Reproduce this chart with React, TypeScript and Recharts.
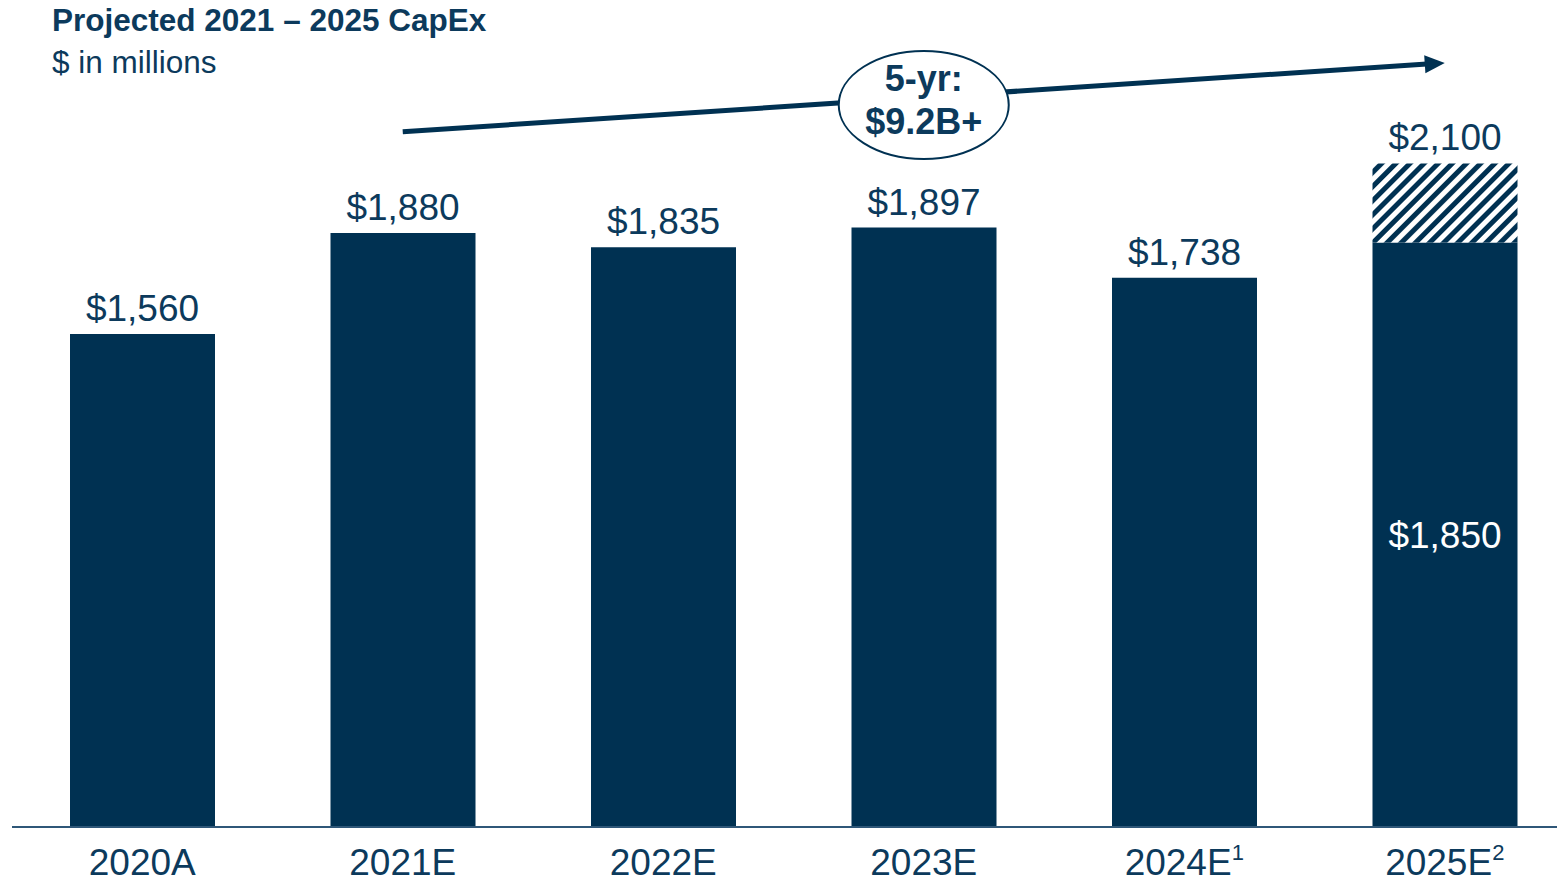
import { Bar, BarChart, LabelList, ReferenceDot, ReferenceLine, XAxis, YAxis } from 'recharts';

const categories = ['2020A', '2021E', '2022E', '2023E', '2024E', '2025E'];
const footnotes = ['', '', '', '', '1', '2'];
const baseCapex = [1560, 1880, 1835, 1897, 1738, 1850];
const upsideCapex = [0, 0, 0, 0, 0, 250];

// trend arrow (value units) and the 5-yr bubble
const trendFrom = { x: '2021E', y: 2200 };
const trendTo = { x: '2025E', y: 2418 };
const bubbleAt = { x: '2023E', y: 2285 };
const bubbleLines = ['5-yr:', '$9.2B+'];

const NAVY = '#003152';
const TEXT = '#0c3a5c';
const FONT = '"Liberation Sans", Arial, sans-serif';

const data = categories.map((name, i) => ({
	name,
	base: baseCapex[i],
	upside: upsideCapex[i],
	total: baseCapex[i] + upsideCapex[i],
}));

const money = (v: number) => '$' + Number(v).toLocaleString('en-US');

const BaseLabel = (props: any) => {
	const { x, y, width, height, index } = props;
	const cx = x + width / 2;
	if (upsideCapex[index] > 0) {
		return (
			<text x={cx} y={y + height / 2 + 13} textAnchor="middle" fill="#ffffff" fontSize={37} fontFamily={FONT}>
				{money(baseCapex[index])}
			</text>
		);
	}
	return (
		<text x={cx} y={y - 13} textAnchor="middle" fill={TEXT} fontSize={37} fontFamily={FONT}>
			{money(baseCapex[index])}
		</text>
	);
};

const TotalLabel = (props: any) => {
	const { x, y, width, height, value } = props;
	if (!height || Math.abs(height) < 1) return null;
	const top = height < 0 ? y + height : y;
	const v = Array.isArray(value) ? value[1] : value;
	return (
		<text x={x + width / 2} y={top - 13} textAnchor="middle" fill={TEXT} fontSize={37} fontFamily={FONT}>
			{money(v)}
		</text>
	);
};

const YearTick = (props: any) => {
	const { x, y, payload, index } = props;
	return (
		<text x={x} y={y + 48} textAnchor="middle" fill={TEXT} fontSize={37} fontFamily={FONT}>
			{payload.value}
			{footnotes[index] ? (
				<tspan fontSize={22} dy={-15}>
					{footnotes[index]}
				</tspan>
			) : null}
		</text>
	);
};

const TrendArrow = (props: any) => {
	const { x1, y1, x2, y2 } = props;
	const len = Math.hypot(x2 - x1, y2 - y1);
	const ux = (x2 - x1) / len;
	const uy = (y2 - y1) / len;
	const head = 20;
	const half = 9;
	const bx = x2 - ux * head;
	const by = y2 - uy * head;
	return (
		<g>
			<line x1={x1} y1={y1} x2={bx + ux * 2} y2={by + uy * 2} stroke={NAVY} strokeWidth={5} />
			<polygon
				points={`${x2},${y2} ${bx - uy * half},${by + ux * half} ${bx + uy * half},${by - ux * half}`}
				fill={NAVY}
			/>
		</g>
	);
};

const Bubble = (props: any) => {
	const { cx, cy } = props;
	return (
		<g>
			<ellipse cx={cx} cy={cy} rx={85} ry={54} fill="#ffffff" stroke={NAVY} strokeWidth={2} />
			<text x={cx} y={cy - 14} textAnchor="middle" fill={TEXT} fontSize={36} fontWeight={700} fontFamily={FONT}>
				{bubbleLines[0]}
			</text>
			<text x={cx} y={cy + 29} textAnchor="middle" fill={TEXT} fontSize={36} fontWeight={700} fontFamily={FONT}>
				{bubbleLines[1]}
			</text>
		</g>
	);
};

export default function App() {
	return (
		<div
			style={{
				position: 'absolute',
				left: 0,
				top: 0,
				width: 1557,
				height: 881,
				overflow: 'hidden',
				background: '#ffffff',
			}}
		>
			<svg width={0} height={0} style={{ position: 'absolute' }}>
				<defs>
					<pattern id="hatch" patternUnits="userSpaceOnUse" width={10} height={10} patternTransform="rotate(45)">
						<rect width={10} height={10} fill="#ffffff" />
						<rect width={5} height={10} fill={NAVY} />
					</pattern>
				</defs>
			</svg>
			<svg width={600} height={90} style={{ position: 'absolute', left: 0, top: 0 }}>
				<text x={52} y={31} fill={TEXT} fontSize={31.5} fontWeight={700} fontFamily={FONT}>
					Projected 2021 – 2025 CapEx
				</text>
				<text x={52} y={73} fill={TEXT} fontSize={31.5} fontFamily={FONT}>
					$ in millions
				</text>
			</svg>
			<div style={{ position: 'absolute', left: 0, top: 0 }}>
				<BarChart
					width={1580}
					height={881}
					data={data}
					margin={{ top: 5.4, right: 5, left: 12, bottom: 0 }}
				>
					<XAxis
						dataKey="name"
						height={54}
						tickLine={false}
						tickSize={0}
						tickMargin={0}
						axisLine={{ stroke: '#2f5778', strokeWidth: 2 }}
						tick={<YearTick />}
						interval={0}
					/>
					<YAxis hide domain={[0, 2600]} />
					<Bar dataKey="base" stackId="capex" fill={NAVY} barSize={145} isAnimationActive={false}>
						<LabelList dataKey="base" content={<BaseLabel />} />
					</Bar>
					<Bar dataKey="upside" stackId="capex" fill="url(#hatch)" barSize={145} isAnimationActive={false}>
						<LabelList dataKey="total" content={<TotalLabel />} />
					</Bar>
					<ReferenceLine segment={[trendFrom, trendTo]} ifOverflow="visible" shape={<TrendArrow />} />
					<ReferenceDot x={bubbleAt.x} y={bubbleAt.y} ifOverflow="visible" shape={<Bubble />} />
				</BarChart>
			</div>
		</div>
	);
}
